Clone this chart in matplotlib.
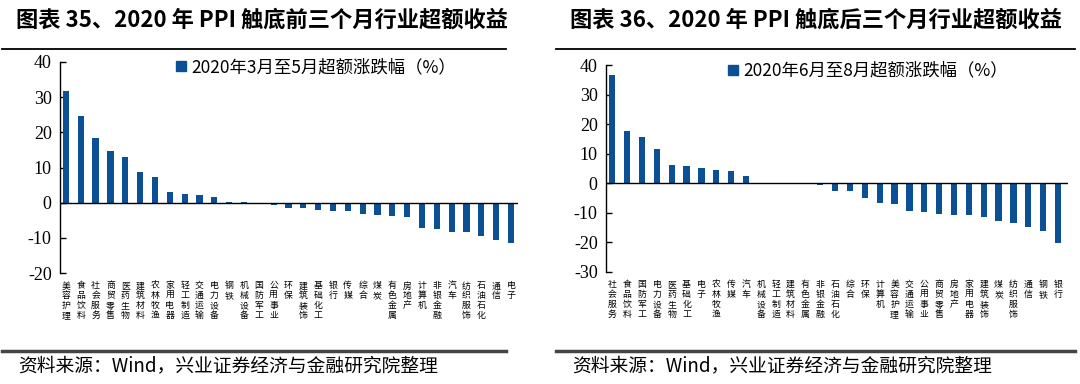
import matplotlib.pyplot as plt
from matplotlib.lines import Line2D

plt.rcParams['font.family'] = ['Noto Sans CJK SC', 'DejaVu Sans']

# 图表35: 3月至5月
cats_a = ['美容护理', '食品饮料', '社会服务', '商贸零售', '医药生物', '建筑材料', '农林牧渔',
          '家用电器', '轻工制造', '交通运输', '电力设备', '钢铁', '机械设备', '国防军工',
          '公用事业', '环保', '建筑装饰', '基础化工', '银行', '传媒', '综合', '煤炭',
          '有色金属', '房地产', '计算机', '非银金融', '汽车', '纺织服饰', '石油石化', '通信', '电子']
vals_a = [31.8, 24.7, 18.4, 14.8, 13.1, 8.6, 7.3, 2.9, 2.4, 2.1, 1.5, 0.3, 0.05, -0.1,
          -0.7, -1.6, -1.6, -2.0, -2.3, -2.5, -3.2, -3.6, -3.9, -4.2, -7.3, -7.5, -8.2,
          -8.4, -9.4, -10.6, -11.5]

# 图表36: 6月至8月
cats_b = ['社会服务', '食品饮料', '国防军工', '电力设备', '医药生物', '基础化工', '电子',
          '农林牧渔', '传媒', '汽车', '机械设备', '轻工制造', '建筑材料', '有色金属',
          '非银金融', '石油石化', '综合', '环保', '计算机', '美容护理', '交通运输', '公用事业',
          '商贸零售', '房地产', '家用电器', '建筑装饰', '煤炭', '纺织服饰', '通信', '钢铁', '银行']
vals_b = [36.7, 17.7, 15.7, 11.5, 6.3, 6.0, 5.2, 4.5, 4.0, 2.6, 0.2, 0.05, 0.02, -0.1,
          -0.6, -2.6, -2.7, -5.1, -6.8, -7.1, -9.5, -9.7, -10.4, -10.7, -10.8, -11.3,
          -12.8, -13.3, -14.7, -16.1, -20.2]

titles = ['图表 35、2020 年 PPI 触底前三个月行业超额收益', '图表 36、2020 年 PPI 触底后三个月行业超额收益']
legends = ['2020年3月至5月超额涨跌幅（%）', '2020年6月至8月超额涨跌幅（%）']
source = '资料来源：Wind，兴业证券经济与金融研究院整理'

blue = '#0b4f95'
serif = ['Liberation Serif', 'Noto Sans CJK SC']

fig = plt.figure(figsize=(10.8, 3.84), dpi=100)


def px(x, y):
    return x / 1080, 1 - y / 384


def panel(rect, cats, vals, ylim, yticks, xlim, title, leg, x0, x1, legx):
    ax = fig.add_axes(rect)
    xs = range(len(vals))
    ax.bar(xs, vals, width=0.42, color=blue, zorder=3)
    ax.set_ylim(*ylim)
    ax.set_xlim(*xlim)
    ax.set_yticks(yticks)
    ax.set_yticklabels([str(t) for t in yticks], fontfamily=serif, fontsize=13)
    ax.tick_params(axis='y', direction='in', length=4, width=1, pad=6)
    ax.tick_params(axis='x', length=0, labelbottom=False)
    for s in ['top', 'right', 'bottom']:
        ax.spines[s].set_visible(False)
    ax.spines['left'].set_linewidth(1)
    ax.axhline(0, color='black', lw=1, zorder=4)
    for i, c in enumerate(cats):
        ax.text(i, -0.04, '\n'.join(c), transform=ax.get_xaxis_transform(),
                ha='center', va='top', fontsize=6.4, linespacing=1.12)
    ax.legend(handles=[Line2D([], [], marker='s', ls='', color=blue, markersize=7)],
              labels=[leg], loc='upper left', bbox_to_anchor=(legx, 1.05), frameon=False,
              fontsize=12.5, handletextpad=0.1, borderaxespad=0, handlelength=1.0)
    # title, rules and source
    tx, ty = px(x0 + 14, 20)
    fig.text(tx, ty, title, fontsize=16, fontweight='bold', va='center', ha='left')
    a, yy = px(x0, 49)
    b, _ = px(x1, 49)
    fig.add_artist(Line2D([a, b], [yy, yy], color='black', lw=1.3))
    a, yy = px(x0, 351)
    fig.add_artist(Line2D([a, b], [yy, yy], color='#444444', lw=2.5))
    sx, sy = px(x0 + 16, 366)
    fig.text(sx, sy, source, fontsize=13.5, va='center', ha='left')
    return ax


panel([60 / 1080, 1 - 273 / 384, 458 / 1080, 211 / 384], cats_a, vals_a,
      (-20, 40), [-20, -10, 0, 10, 20, 30, 40], (-0.4, 30.47),
      titles[0], legends[0], 2, 506, 0.23)
panel([606 / 1080, 1 - 272 / 384, 462 / 1080, 207 / 384], cats_b, vals_b,
      (-30, 40), [-30, -20, -10, 0, 10, 20, 30, 40], (-0.42, 30.67),
      titles[1], legends[1], 556, 1075, 0.24)

fig.savefig('out.png', dpi=100)
